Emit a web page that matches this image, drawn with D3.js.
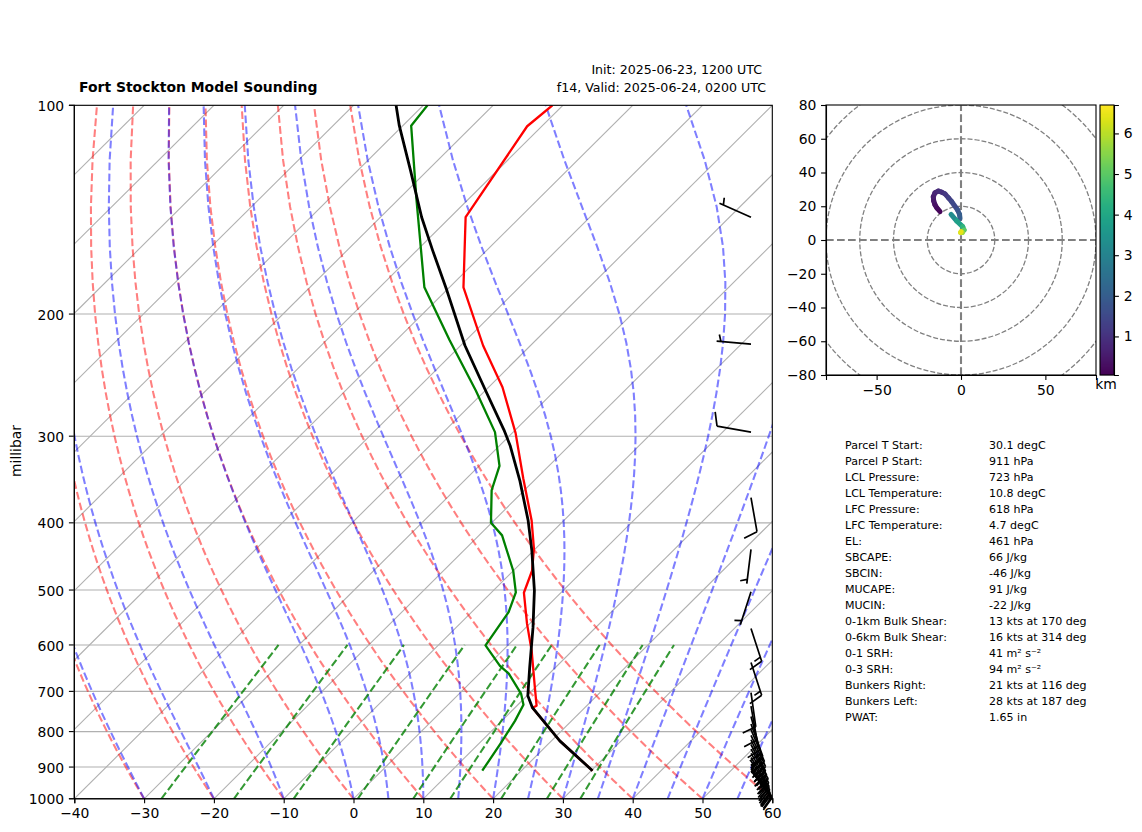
<!DOCTYPE html>
<html>
<head>
<meta charset="utf-8">
<script src="https://d3js.org/d3.v7.min.js"></script>
<style>
    html, body { margin: 0; padding: 0; background: #fff; }
    text { font-family: "DejaVu Sans", sans-serif; fill: #000; }
    .domain, .tick line { stroke: #000; stroke-width: 1.1; }
    .tick text { font-size: 13.9px; font-family: "DejaVu Sans", sans-serif; }
</style>
</head>
<body>
<div id="chart"></div>
<script>
//[pressure hPa, temperature degC]
var GTemp = [[911,30.2],[825,21.2],[739,12.5],[734,12.8],[692,10.0],[612,4.2],[559,-0.4],[504.5,-5.3],[469,-7.3],
    [436,-10.2],[397,-14.6],[345,-21.9],[297,-29.5],[255,-38.0],[222,-46.8],[183,-58.0],[145,-67.8],
    [107.2,-72.1],[100,-71.5]];

var GDewp = [[911,14.4],[833,13.1],[772,11.9],[732,10.8],[706,8.9],[660,4.2],[643,1.8],[601,-3.2],
    [538,-4.7],[504,-6.5],[469,-10.0],[417,-16.7],[400,-20.1],[359,-24.7],[331,-27.1],[296,-32.6],
    [258,-41.3],[218,-52.4],[183,-63.6],[137,-77.3],[107,-88.8],[100,-89.4]];

var GParcel = [[911,30.2],[825,21.2],[739,12.5],[710,10.1],[646.5,6.3],[566,1.0],[501,-4.1],[439,-10.2],
    [397,-15.1],[348,-22.0],[310,-28.4],[294,-31.6],[258,-39.9],[222,-49.4],[185,-59.9],[162,-67.7],
    [145,-74.1],[124,-82.5],[107,-90.5],[100,-93.9]];

//[pressure hPa, speed kts, direction deg]
var GWinds = [[145,5,294],[221,5,275],[296,10,280],[368,10,170],[437,5,187],[503,5,198],[568,15,162],
    [636,15,162],[703,10,172],[735,10,170],[761,15,165],[780,20,160],[795,25,157],[810,30,155],
    [822,30,155],[835,30,153],[848,30,150],[860,30,149],[872,25,148],[882,25,147],[892,25,146],
    [900,20,145],[906,20,143],[911,20,143]];

//[height km, u, v], null breaks the trace
var GHodo = [[0.1,-12.4,16.8],[0.2,-14.3,19],[0.3,-15.4,20.8],[0.42,-16.2,23.2],[0.55,-16.4,25.7],
    [0.68,-15.4,28],[0.8,-13.4,29],[0.92,-11.5,28.4],[1.05,-9.5,27.3],[1.2,-7.4,25],
    [1.35,-5.5,22.7],[1.7,-2,17.8],[1.9,-0.9,15.2],[2.1,-0.6,12.8],null,[3.0,-5.9,15.2],[3.5,-2.6,11.3],[4.1,1,7.9],
    [4.7,1.8,5.9],[5.4,0.8,4.5],[6.2,-0.2,4.5],[6.7,0,5]];

var GStats = [
    ["Parcel T Start:","30.1 degC"],["Parcel P Start:","911 hPa"],["LCL Pressure:","723 hPa"],
    ["LCL Temperature:","10.8 degC"],["LFC Pressure:","618 hPa"],["LFC Temperature:","4.7 degC"],
    ["EL:","461 hPa"],["SBCAPE:","66 J/kg"],["SBCIN:","-46 J/kg"],["MUCAPE:","91 J/kg"],
    ["MUCIN:","-22 J/kg"],["0-1km Bulk Shear:","13 kts at 170 deg"],["0-6km Bulk Shear:","16 kts at 314 deg"],
    ["0-1 SRH:","41 m\u00B2 s\u207B\u00B2"],["0-3 SRH:","94 m\u00B2 s\u207B\u00B2"],
    ["Bunkers Right:","21 kts at 116 deg"],["Bunkers Left:","28 kts at 187 deg"],["PWAT:","1.65 in"]];

function clsSkewT(p_Config){
    var LMe = this;

    LMe.left = 74.3;
    LMe.right = 772.3;
    LMe.top = 105.3;
    LMe.bottom = 798.8;

    //---------------------------------------------------------------
    LMe.constructor = function(p_Config){
        for (var LName in p_Config)
        {
            LMe[LName] = p_Config[LName];
        }
        LMe.svg = d3.select("#" + LMe.renderTo).append("svg")
            .attr("width", 1142).attr("height", 832).style("display", "block");
        LMe.xScale = d3.scaleLinear().domain([-40, 60]).range([LMe.left, LMe.right]);
        LMe.yScale = d3.scaleLog().domain([1000, 100]).range([LMe.bottom, LMe.top]);
        LMe.skew = (LMe.right - LMe.left) / (LMe.bottom - LMe.top);

        //skewed line generator, takes [p, T]
        LMe.line = d3.line()
            .x(function(d){ return LMe.xScale(d[1]) + (LMe.bottom - LMe.yScale(d[0])) * LMe.skew; })
            .y(function(d){ return LMe.yScale(d[0]); });
    };

    //---------------------------------------------------------------
    LMe.satVapor = function(p_TK){
        return 6.112 * Math.exp(17.67 * (p_TK - 273.15) / (p_TK - 29.65));
    };

    //---------------------------------------------------------------
    LMe.dryAdiabat = function(p_T0){
        return d3.range(1000, 99, -20).map(function(p){
            return [p, (p_T0 + 273.15) * Math.pow(p / 1000, 0.2854) - 273.15];
        });
    };

    //---------------------------------------------------------------
    LMe.moistAdiabat = function(p_T0){
        var LT = p_T0 + 273.15, LP = 1000, LOut = [[1000, p_T0]], LI;
        function L_Slope(T, p){
            var LRs = 0.622 * LMe.satVapor(T) / (p - LMe.satVapor(T));
            return (287.05 * T + 2.501e6 * LRs) /
                (1005 + 2.501e6 * 2.501e6 * LRs * 0.622 / (287.05 * T * T)) / p;
        }
        for(LI = 0; LI < 900; LI++)
        {
            //midpoint step, 1 hPa
            var LMid = LT - 0.5 * L_Slope(LT, LP);
            LT = LT - L_Slope(LMid, LP - 0.5);
            LP = LP - 1;
            if(LP % 20 == 0) LOut.push([LP, LT - 273.15]);
        }
        return LOut;
    };

    //---------------------------------------------------------------
    LMe.mixingLine = function(p_W){
        return d3.range(1000, 599, -20).map(function(p){
            var LE = p * p_W / (0.622 + p_W), LLog = Math.log(LE / 6.112);
            return [p, 243.5 * LLog / (17.67 - LLog)];
        });
    };

    //---------------------------------------------------------------
    LMe.drawBackground = function(){
        var LG = LMe.plot, LP;

        //isotherms
        d3.range(-140, 61, 10).forEach(function(T){
            LG.append("path").attr("d", LMe.line([[1000, T], [100, T]]))
                .attr("fill", "none").attr("stroke", "#b0b0b0").attr("stroke-width", 1.1);
        });
        //isobars
        LP = d3.range(100, 1001, 100);
        LG.selectAll(".isobar").data(LP).enter().append("line").attr("class", "isobar")
            .attr("x1", LMe.left).attr("x2", LMe.right)
            .attr("y1", LMe.yScale).attr("y2", LMe.yScale)
            .attr("stroke", "#b0b0b0").attr("stroke-width", 1.1);

        function L_Dashed(p_Data, p_Color, p_Alpha){
            LG.append("path").attr("d", LMe.line(p_Data)).attr("fill", "none")
                .attr("stroke", p_Color).attr("stroke-opacity", p_Alpha)
                .attr("stroke-width", 2.08).attr("stroke-dasharray", "7.7,3.3");
        }

        d3.range(-40, 61, 10).forEach(function(T){ L_Dashed(LMe.dryAdiabat(T), "#f00", 0.5); });
        d3.range(-40, 1, 10).concat(d3.range(5, 61, 5)).forEach(function(T){
            L_Dashed(LMe.moistAdiabat(T), "#00f", 0.5);
        });
        [0.0004, 0.001, 0.002, 0.004, 0.007, 0.01, 0.016, 0.024, 0.032].forEach(function(w){
            L_Dashed(LMe.mixingLine(w), "#008000", 0.8);
        });
    };

    //---------------------------------------------------------------
    LMe.drawProfiles = function(){
        [[GTemp, "#f00", 2.3], [GDewp, "#008000", 2.3], [GParcel, "#000", 2.8]].forEach(function(d){
            LMe.plot.append("path").attr("d", LMe.line(d[0])).attr("fill", "none")
                .attr("stroke", d[1]).attr("stroke-width", d[2]).attr("stroke-linejoin", "round");
        });
    };

    //---------------------------------------------------------------
    LMe.drawBarbs = function(){
        var LLen = 34.5, LBase = 751;

        LMe.svg.append("g").selectAll("path").data(GWinds).enter().append("path")
            .attr("fill", "none").attr("stroke", "#000").attr("stroke-width", 1.7)
            .attr("d", function(d){
                //pole points to where the wind comes from
                var LAng = d[2] * Math.PI / 180,
                    LUx = Math.sin(LAng), LUy = -Math.cos(LAng),
                    LNx = -LUy, LNy = LUx,     //clockwise on screen
                    LY = LMe.yScale(d[0]),
                    LPath = d3.path(), LSpd = d[1], LPos = LLen;

                LPath.moveTo(LBase, LY);
                LPath.lineTo(LBase + LUx * LLen, LY + LUy * LLen);

                function L_Tick(p_Pos, p_Frac){
                    var LX0 = LBase + LUx * p_Pos, LY0 = LY + LUy * p_Pos,
                        LH = 0.4 * LLen * p_Frac, LW = 0.125 * LLen * p_Frac;
                    LPath.moveTo(LX0, LY0);
                    LPath.lineTo(LX0 + LNx * LH + LUx * LW, LY0 + LNy * LH + LUy * LW);
                }

                if(LSpd == 5) LPos -= 0.125 * LLen;
                while(LSpd >= 10)
                {
                    L_Tick(LPos, 1);
                    LPos -= 0.125 * LLen;
                    LSpd -= 10;
                }
                if(LSpd >= 5) L_Tick(LPos, 0.5);
                return LPath.toString();
            });
    };

    //---------------------------------------------------------------
    LMe.drawAxes = function(){
        var LSvg = LMe.svg;

        LSvg.append("g").attr("transform", "translate(0," + (LMe.bottom - 0.5) + ")")
            .call(d3.axisBottom(LMe.xScale).tickValues(d3.range(-40, 61, 10)).tickSizeOuter(0).tickSize(4.9).tickPadding(4.8));
        LSvg.append("g").attr("transform", "translate(" + (LMe.left - 0.5) + ",-0.5)")
            .call(d3.axisLeft(LMe.yScale).tickValues(d3.range(100, 1001, 100))
                .tickFormat(d3.format("d")).tickSizeOuter(0).tickSize(4.9).tickPadding(4.8))
            .selectAll("text").attr("dy", "0.4em");
        LSvg.append("rect").attr("x", LMe.left).attr("y", LMe.top)
            .attr("width", LMe.right - LMe.left).attr("height", LMe.bottom - LMe.top)
            .attr("fill", "none").attr("stroke", "#000").attr("stroke-width", 1.1);

        LSvg.append("text").attr("transform", "translate(21,451) rotate(-90)")
            .attr("text-anchor", "middle").style("font-size", "13.9px").text("millibar");
        LSvg.append("text").attr("x", 79).attr("y", 92).style("font-size", "13.95px")
            .style("font-weight", "bold").text("Fort Stockton Model Sounding");
        LSvg.append("text").attr("x", 762).attr("y", 74).attr("text-anchor", "end")
            .style("font-size", "12.6px").text("Init: 2025-06-23, 1200 UTC");
        LSvg.append("text").attr("x", 766).attr("y", 92).attr("text-anchor", "end")
            .style("font-size", "12.6px").text("f14, Valid: 2025-06-24, 0200 UTC");
    };

    //---------------------------------------------------------------
    LMe.drawHodograph = function(){
        var LSvg = LMe.svg,
            LX = d3.scaleLinear().domain([-80, 80]).range([826, 1096]),
            LY = d3.scaleLinear().domain([-80, 80]).range([375, 105]),
            LH = d3.scaleLinear().domain([0.05, 6.7]).range([375, 105]),
            LColor = d3.scaleSequential(d3.interpolateViridis).domain([0.05, 6.7]),
            LG = LSvg.append("g").attr("clip-path", "url(#hodoClip)"),
            LI;

        LSvg.append("clipPath").attr("id", "hodoClip").append("rect")
            .attr("x", 826).attr("y", 105).attr("width", 270).attr("height", 270);

        [20, 40, 60, 80, 100].forEach(function(r){
            LG.append("circle").attr("cx", LX(0)).attr("cy", LY(0)).attr("r", LX(r) - LX(0))
                .attr("fill", "none").attr("stroke", "#808080").attr("stroke-width", 1.3)
                .attr("stroke-dasharray", "5,2");
        });
        LG.append("line").attr("x1", LX(-80)).attr("x2", LX(80)).attr("y1", LY(0)).attr("y2", LY(0))
            .attr("stroke", "#808080").attr("stroke-width", 2.1).attr("stroke-dasharray", "7.7,3.3");
        LG.append("line").attr("x1", LX(0)).attr("x2", LX(0)).attr("y1", LY(-80)).attr("y2", LY(80))
            .attr("stroke", "#808080").attr("stroke-width", 2.1).attr("stroke-dasharray", "7.7,3.3");

        for(LI = 1; LI < GHodo.length; LI++)
        {
            if(!GHodo[LI] || !GHodo[LI - 1]) continue;
            LG.append("line")
                .attr("x1", LX(GHodo[LI - 1][1])).attr("y1", LY(GHodo[LI - 1][2]))
                .attr("x2", LX(GHodo[LI][1])).attr("y2", LY(GHodo[LI][2]))
                .attr("stroke", LColor((GHodo[LI - 1][0] + GHodo[LI][0]) / 2))
                .attr("stroke-width", 5).attr("stroke-linecap", "round");
        }

        LSvg.append("g").attr("transform", "translate(0,375)")
            .call(d3.axisBottom(LX).tickValues([-50, 0, 50]).tickSizeOuter(0).tickSize(4.9).tickPadding(4.8));
        LSvg.append("g").attr("transform", "translate(826,0)")
            .call(d3.axisLeft(LY).tickValues(d3.range(-80, 81, 20)).tickSizeOuter(0).tickSize(4.9).tickPadding(4.8));
        LSvg.append("rect").attr("x", 826).attr("y", 105).attr("width", 270).attr("height", 270)
            .attr("fill", "none").attr("stroke", "#000").attr("stroke-width", 1.1);

        //colorbar
        LSvg.append("g").selectAll("rect").data(d3.range(105, 375)).enter().append("rect")
            .attr("x", 1100).attr("width", 14).attr("y", function(d){ return d; }).attr("height", 1.2)
            .attr("fill", function(d){ return LColor(LH.invert(d + 0.5)); });
        LSvg.append("g").attr("transform", "translate(1114,0)")
            .call(d3.axisRight(LH).tickValues([1, 2, 3, 4, 5, 6]).tickFormat(d3.format("d"))
                .tickSizeOuter(0).tickSize(4.9).tickPadding(4.8));
        LSvg.append("rect").attr("x", 1100).attr("y", 105).attr("width", 14).attr("height", 270)
            .attr("fill", "none").attr("stroke", "#000").attr("stroke-width", 1.1);
        LSvg.append("text").attr("x", 1106).attr("y", 389).attr("text-anchor", "middle")
            .style("font-size", "13.9px").text("km");
    };

    //---------------------------------------------------------------
    LMe.drawStats = function(){
        var LRows = LMe.svg.append("g").selectAll("g").data(GStats).enter().append("g")
            .attr("transform", function(d, i){ return "translate(0," + (448.6 + i * 16.05) + ")"; })
            .style("font-size", "11.05px");
        LRows.append("text").attr("x", 845).text(function(d){ return d[0]; });
        LRows.append("text").attr("x", 989).text(function(d){ return d[1]; });
    };

    //---------------------------------------------------------------
    LMe.draw = function(){
        LMe.svg.append("clipPath").attr("id", "plotClip").append("rect")
            .attr("x", LMe.left).attr("y", LMe.top)
            .attr("width", LMe.right - LMe.left).attr("height", LMe.bottom - LMe.top);
        LMe.plot = LMe.svg.append("g").attr("clip-path", "url(#plotClip)");

        LMe.drawBackground();
        LMe.drawProfiles();
        LMe.drawBarbs();
        LMe.drawAxes();
        LMe.drawHodograph();
        LMe.drawStats();
    };

    //---------------------------------------------------------------
    LMe.constructor(p_Config);
    return LMe;
}

var GChart = new clsSkewT({ renderTo: "chart" });
GChart.draw();
</script>
</body>
</html>
